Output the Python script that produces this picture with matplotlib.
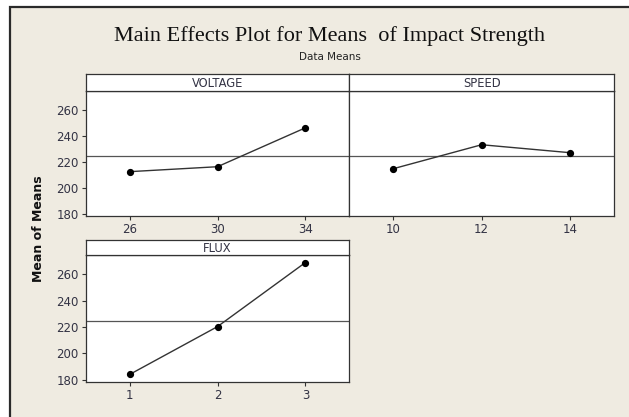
import matplotlib
matplotlib.use("Agg")
import matplotlib.pyplot as plt
from matplotlib.patches import Rectangle

# ---- data ----
voltage_levels = ["26", "30", "34"]
voltage_means = [212.7, 216.5, 246.4]
speed_levels = ["10", "12", "14"]
speed_means = [215.0, 233.4, 227.3]
flux_levels = ["1", "2", "3"]
flux_means = [184.1, 220.4, 269.0]
grand_mean = 225.0
y_ticks = [180, 200, 220, 240, 260]

BG = "#EFEBE1"
TXT = "#333344"

fig = plt.figure(figsize=(6.29, 4.17), dpi=100)
fig.patch.set_facecolor("white")
# beige panel with dark border
fig.patches.append(Rectangle((10/629, -0.01), 1, 1.01 - 7/417, transform=fig.transFigure,
                             facecolor=BG, edgecolor="#2a2a2a", linewidth=1.6, zorder=-5))

W, H = 629, 417

def ax_rect(x0, x1, y0, y1):
    return [x0 / W, 1 - y1 / H, (x1 - x0) / W, (y1 - y0) / H]

panels = [
    ("VOLTAGE", voltage_levels, voltage_means, (85.7, 349.3), (91.3, 216.0), (74.3, 91.3), True),
    ("SPEED", speed_levels, speed_means, (349.3, 614.0), (91.3, 216.0), (74.3, 91.3), False),
    ("FLUX", flux_levels, flux_means, (85.7, 349.3), (255.3, 381.7), (240.0, 255.3), True),
]

for name, levels, means, (x0, x1), (y0, y1), (s0, s1), show_y in panels:
    ax = fig.add_axes(ax_rect(x0, x1, y0, y1))
    ax.set_facecolor("white")
    xs = list(range(len(levels)))
    ax.axhline(grand_mean, color="#555555", linewidth=0.9, zorder=1)
    ax.plot(xs, means, color="#333333", linewidth=1.0, marker="o",
            markersize=4.2, markerfacecolor="black", markeredgecolor="black", zorder=3)
    ax.set_xlim(-0.5, len(levels) - 0.5)
    ax.set_ylim(178.6, 274.5)
    ax.set_xticks(xs)
    ax.set_xticklabels(levels, fontsize=8.5, color=TXT)
    ax.set_yticks(y_ticks)
    if show_y:
        ax.set_yticklabels([str(t) for t in y_ticks], fontsize=8.5, color=TXT)
        ax.tick_params(axis="y", length=3, width=0.8, color="#333333", pad=2)
    else:
        ax.tick_params(axis="y", left=False, labelleft=False)
    ax.tick_params(axis="x", length=3, width=0.8, color="#333333", pad=2)
    for sp in ax.spines.values():
        sp.set_color("#333333")
        sp.set_linewidth(0.9)

    sax = fig.add_axes(ax_rect(x0, x1, s0, s1))
    sax.set_facecolor("white")
    sax.set_xticks([])
    sax.set_yticks([])
    for sp in sax.spines.values():
        sp.set_color("#333333")
        sp.set_linewidth(0.9)
    sax.text(0.5, 0.45, name, transform=sax.transAxes, ha="center", va="center",
             fontsize=8.3, color=TXT)

fig.text(330 / W, 1 - 36 / H, "Main Effects Plot for Means  of Impact Strength",
         ha="center", va="center", fontsize=16, family="Liberation Serif", color="#111111")
fig.text(330 / W, 1 - 57 / H, "Data Means", ha="center", va="center",
         fontsize=7.5, color="#222222")
fig.text(38 / W, 1 - 229 / H, "Mean of Means", ha="center", va="center",
         rotation=90, fontsize=9, fontweight="bold", color="#111111")

fig.savefig("out.png", dpi=100, facecolor=fig.get_facecolor())
